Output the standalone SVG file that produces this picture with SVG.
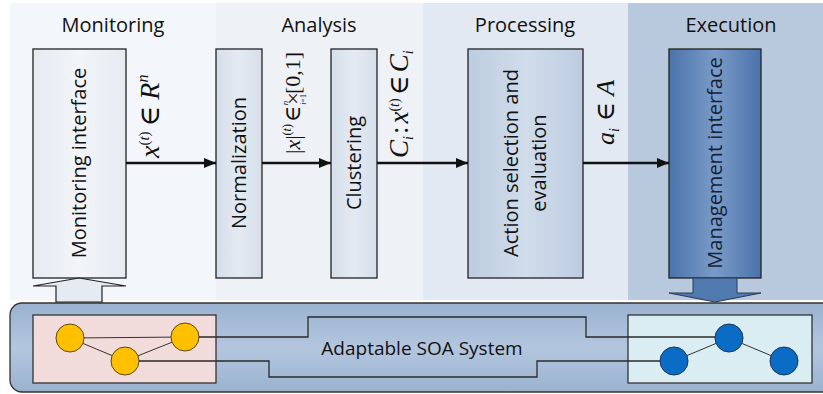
<svg xmlns="http://www.w3.org/2000/svg" width="823" height="394" viewBox="0 0 823 394">
<style>
.hdr{font-family:"Open Sans","Liberation Sans",sans-serif;font-size:20px;fill:#111;text-anchor:middle}
.lbl{font-family:"Open Sans","Liberation Sans",sans-serif;font-size:20px;fill:#111;text-anchor:middle}
.math{font-family:"Liberation Serif","Times New Roman",serif;font-style:italic;fill:#111}
.up{font-family:"Liberation Serif","DejaVu Serif",serif;font-style:normal}
.box{stroke:#222;stroke-width:1.3}
.conn{stroke:#111;stroke-width:2.5;fill:none}
.wire{stroke:#2a2a2a;stroke-width:1.3;fill:none}
.thin{stroke:#333;stroke-width:1;fill:none}
.ycirc{fill:#ffc000;stroke:#5a4a10;stroke-width:1}
.bcirc{fill:#0a6cc4;stroke:#1d3556;stroke-width:1}
</style>
<defs>
<marker id="ah" viewBox="0 0 12 10" refX="12" refY="5" markerWidth="12" markerHeight="10" markerUnits="userSpaceOnUse" orient="auto">
<path d="M0,0 L12,5 L0,10 z" fill="#111"/>
</marker>
<linearGradient id="gMon" x1="0" y1="0" x2="1" y2="0">
<stop offset="0" stop-color="#e6ebf2"/><stop offset="0.5" stop-color="#f2f5f9"/><stop offset="1" stop-color="#e6ebf2"/>
</linearGradient>
<linearGradient id="gAna" x1="0" y1="0" x2="1" y2="0">
<stop offset="0" stop-color="#d5deea"/><stop offset="0.5" stop-color="#e4eaf2"/><stop offset="1" stop-color="#d5deea"/>
</linearGradient>
<linearGradient id="gPro" x1="0" y1="0" x2="1" y2="0">
<stop offset="0" stop-color="#bccce0"/><stop offset="0.5" stop-color="#d0dcea"/><stop offset="1" stop-color="#bccce0"/>
</linearGradient>
<linearGradient id="gMgt" x1="0" y1="0" x2="1" y2="0">
<stop offset="0" stop-color="#4a73ab"/><stop offset="0.5" stop-color="#7a9bc7"/><stop offset="1" stop-color="#4a73ab"/>
</linearGradient>
<linearGradient id="gSys" x1="0" y1="0" x2="0" y2="1">
<stop offset="0" stop-color="#9ab2d0"/><stop offset="0.5" stop-color="#b3c6de"/><stop offset="1" stop-color="#9ab2d0"/>
</linearGradient>
</defs>

<g id="panels">
<rect x="10" y="3" width="206" height="297" fill="#f3f6fa"/>
<rect x="216" y="3" width="207" height="297" fill="#eef2f7"/>
<rect x="423" y="3" width="205" height="297" fill="#e2e9f2"/>
<rect x="628" y="3" width="195" height="297" fill="#b9c9dd"/>
<text class="hdr" x="113" y="32">Monitoring</text>
<text class="hdr" x="319" y="32">Analysis</text>
<text class="hdr" x="525" y="32">Processing</text>
<text class="hdr" x="731" y="32">Execution</text>
</g>

<g id="system">
<rect x="10" y="303" width="825" height="89" rx="12" fill="url(#gSys)" stroke="#333" stroke-width="1.3"/>
<text class="lbl" x="422" y="355" style="font-size:19px">Adaptable SOA System</text>
</g>

<g id="monitoring-interface">
<rect class="box" x="33" y="49" width="93" height="229" fill="url(#gMon)"/>
<text class="lbl" transform="translate(86,163) rotate(-90)">Monitoring interface</text>
<path d="M79,278 L126,286 L102,286 L102,302 L56,302 L56,286 L33,286 z" fill="#e6ebf2" stroke="#222" stroke-width="1.2"/>
</g>

<g id="normalization">
<rect class="box" x="216" y="49" width="46" height="229" fill="url(#gAna)"/>
<text class="lbl" transform="translate(246,163) rotate(-90)">Normalization</text>
</g>

<g id="clustering">
<rect class="box" x="331" y="49" width="46" height="229" fill="url(#gAna)"/>
<text class="lbl" transform="translate(361,163) rotate(-90)">Clustering</text>
</g>

<g id="action-selection">
<rect class="box" x="468" y="49" width="115" height="229" fill="url(#gPro)"/>
<text class="lbl" transform="translate(518,163) rotate(-90)">Action selection and</text>
<text class="lbl" transform="translate(546,163) rotate(-90)">evaluation</text>
</g>

<g id="management-interface">
<rect class="box" x="669" y="49" width="92" height="229" fill="url(#gMgt)"/>
<text class="lbl" transform="translate(722,163) rotate(-90)" style="fill:#15233a">Management interface</text>
<path d="M693,278 L737,278 L737,293 L761,293 L715,302 L669,293 L693,293 z" fill="#5079b0" stroke="#2a3a55" stroke-width="1"/>
</g>

<g id="source-nodes">
<rect x="33" y="315" width="183" height="68" fill="#f2dcdb" stroke="#333" stroke-width="1.3"/>
<line class="thin" x1="70" y1="338" x2="185" y2="337"/>
<line class="thin" x1="70" y1="338" x2="125" y2="361"/>
<line class="thin" x1="125" y1="361" x2="185" y2="337"/>
<circle class="ycirc" cx="70" cy="338" r="14"/>
<circle class="ycirc" cx="125" cy="361" r="14"/>
<circle class="ycirc" cx="185" cy="337" r="14"/>
</g>

<g id="target-nodes">
<rect x="628" y="315" width="184" height="68" fill="#daedf3" stroke="#333" stroke-width="1.3"/>
<line class="thin" x1="674" y1="361" x2="729" y2="338"/>
<line class="thin" x1="729" y1="338" x2="784" y2="361"/>
</g>

<g id="connectors">
<line class="conn" x1="126" y1="163" x2="216" y2="163" marker-end="url(#ah)"/>
<line class="conn" x1="262" y1="163" x2="331" y2="163" marker-end="url(#ah)"/>
<line class="conn" x1="377" y1="163" x2="468" y2="163" marker-end="url(#ah)"/>
<line class="conn" x1="583" y1="163" x2="669" y2="163" marker-end="url(#ah)"/>
<path class="wire" d="M199,337 H308 V317 H586 V337 H715"/>
<path class="wire" d="M139,361 H269 V377 H537 V361 H660"/>
</g>

<g id="target-circles">
<circle class="bcirc" cx="674" cy="361" r="14"/>
<circle class="bcirc" cx="729" cy="338" r="14"/>
<circle class="bcirc" cx="784" cy="361" r="14"/>
</g>

<g id="labels">
<text class="math" transform="translate(159,158) rotate(-90)" style="font-size:28px">x<tspan dy="-10" style="font-size:15px"><tspan class="up">(</tspan>t<tspan class="up">)</tspan></tspan><tspan dy="10" dx="5" class="up">∈</tspan><tspan dx="6">R</tspan><tspan dy="-11" style="font-size:16px">n</tspan></text>
<text class="math" transform="translate(300,154) rotate(-90)" style="font-size:22px"><tspan class="up">|</tspan>x<tspan class="up">|</tspan><tspan dy="-9" style="font-size:12px"><tspan class="up">(</tspan>t<tspan class="up">)</tspan></tspan><tspan dy="9" dx="2" class="up">∈</tspan><tspan dx="1" class="up">×</tspan><tspan dx="-13" dy="-12" style="font-size:9px">n</tspan><tspan dx="-4" dy="18" style="font-size:8px">i<tspan class="up">=1</tspan></tspan><tspan dy="-6" dx="0" class="up">[0,1]</tspan></text>
<text class="math" transform="translate(408,158) rotate(-90)" style="font-size:27px">C<tspan dy="5" style="font-size:14px">i</tspan><tspan dy="-5" dx="2" class="up">:</tspan><tspan dx="3">x</tspan><tspan dy="-9" style="font-size:14px"><tspan class="up">(</tspan>t<tspan class="up">)</tspan></tspan><tspan dy="9" dx="3" class="up">∈</tspan><tspan dx="3">C</tspan><tspan dy="5" style="font-size:14px">i</tspan></text>
<text class="math" transform="translate(614,145) rotate(-90)" style="font-size:26px">a<tspan dy="5" style="font-size:14px">i</tspan><tspan dy="-5" class="up"> ∈ </tspan>A</text>
</g>
</svg>
